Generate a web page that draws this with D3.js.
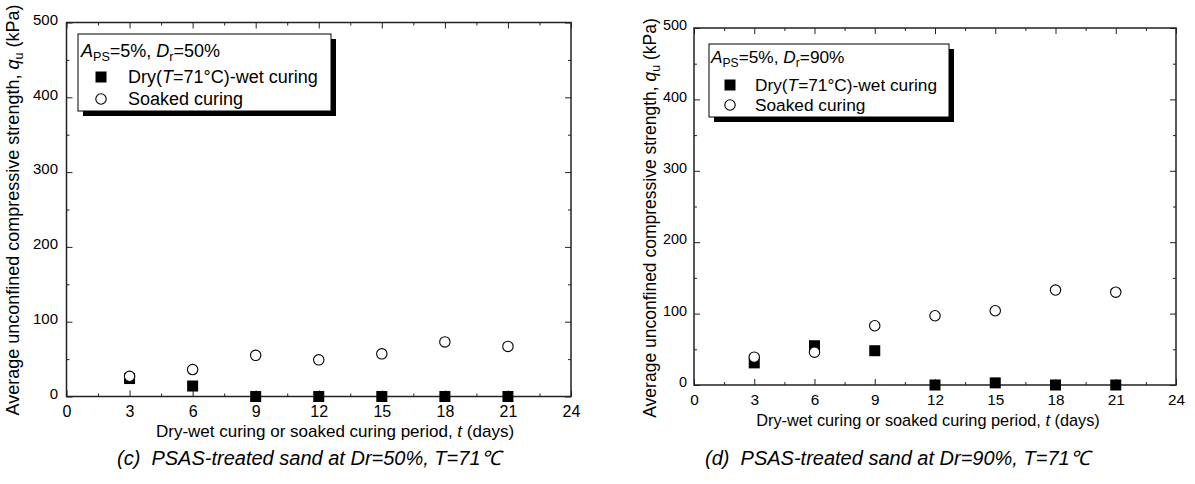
<!DOCTYPE html>
<html>
<head>
<meta charset="utf-8">
<script src="https://cdn.jsdelivr.net/npm/d3@7"></script>
<style>
  body { margin: 0; background: #fff; }
  svg { font-family: "Liberation Sans", Arial, sans-serif; }
  .axis path, .axis line { stroke: #222; }
  .axis text { fill: #000; }
</style>
</head>
<body>
<svg id="chart" width="1195" height="484"></svg>
<script>
// curing period (days)
var days = [3, 6, 9, 12, 15, 18, 21];
// (c) Dr=50%
var dryWetC  = [24, 14, 0, 0, 0, 0, 0];
var soakedC  = [27, 36, 55, 49, 57, 73, 67];
// (d) Dr=90%
var dryWetD  = [31, 55, 48, 0, 3, 0, 0];
var soakedD  = [39, 46, 83, 97, 104, 133, 130];

var xTicks = [0, 3, 6, 9, 12, 15, 18, 21, 24];
var xMinor = [1.5, 4.5, 7.5, 10.5, 13.5, 16.5, 19.5, 22.5];
var yTicks = [0, 100, 200, 300, 400, 500];
var yMinor = [50, 150, 250, 350, 450];

var svg = d3.select("#chart");

function noDomain(s) { s.select(".domain").remove(); }

function drawPanel(p) {
  var x = d3.scaleLinear().domain([0, 24]).range([p.left, p.right]),
      y = d3.scaleLinear().domain([0, 500]).range([p.bottom, p.top]);
  var f = p.fs;

  var g = svg.append("g");

  // frame
  g.append("rect")
    .attr("x", p.left).attr("y", p.top)
    .attr("width", p.right - p.left).attr("height", p.bottom - p.top)
    .attr("fill", "none").attr("stroke", "#222").attr("stroke-width", 1.5);

  // ticks, all pointing inward
  g.append("g").attr("class", "axis")
    .attr("transform", "translate(0," + p.bottom + ")")
    .call(d3.axisBottom(x).tickValues(xTicks).tickSizeInner(-6).tickSizeOuter(0).tickPadding(9))
    .call(noDomain)
    .selectAll("text").attr("font-size", 16 * f);
  g.append("g").attr("class", "axis")
    .attr("transform", "translate(0," + p.bottom + ")")
    .call(d3.axisBottom(x).tickValues(xMinor).tickSize(-3).tickFormat(""))
    .call(noDomain);
  g.append("g").attr("class", "axis")
    .attr("transform", "translate(0," + p.top + ")")
    .call(d3.axisTop(x).tickValues(xTicks).tickSize(-6).tickFormat(""))
    .call(noDomain);
  g.append("g").attr("class", "axis")
    .attr("transform", "translate(0," + p.top + ")")
    .call(d3.axisTop(x).tickValues(xMinor).tickSize(-3).tickFormat(""))
    .call(noDomain);

  g.append("g").attr("class", "axis")
    .attr("transform", "translate(" + p.left + ",0)")
    .call(d3.axisLeft(y).tickValues(yTicks).tickSizeInner(-6).tickSizeOuter(0).tickPadding(p.yPad))
    .call(noDomain)
    .selectAll("text").attr("font-size", 15 * f).attr("dy", "0.12em");
  g.append("g").attr("class", "axis")
    .attr("transform", "translate(" + p.left + ",0)")
    .call(d3.axisLeft(y).tickValues(yMinor).tickSize(-3).tickFormat(""))
    .call(noDomain);
  g.append("g").attr("class", "axis")
    .attr("transform", "translate(" + p.right + ",0)")
    .call(d3.axisRight(y).tickValues(yTicks).tickSize(-6).tickFormat(""))
    .call(noDomain);
  g.append("g").attr("class", "axis")
    .attr("transform", "translate(" + p.right + ",0)")
    .call(d3.axisRight(y).tickValues(yMinor).tickSize(-3).tickFormat(""))
    .call(noDomain);

  // x title
  var xt = g.append("text")
    .attr("x", p.xTitleX).attr("y", p.xTitleY)
    .attr("text-anchor", "middle").attr("font-size", 17 * f);
  xt.append("tspan").text("Dry-wet curing or soaked curing period, ");
  xt.append("tspan").attr("font-style", "italic").text("t");
  xt.append("tspan").text(" (days)");

  // y title
  var yt = g.append("text")
    .attr("transform", "translate(" + p.yTitleX + "," + p.yTitleY + ") rotate(-90)")
    .attr("text-anchor", "middle").attr("font-size", p.yTitleFs);
  yt.append("tspan").text("Average unconfined compressive strength, ");
  yt.append("tspan").attr("font-style", "italic").text("q");
  yt.append("tspan").attr("font-size", p.yTitleFs * 0.7).attr("dy", 4).text("u");
  yt.append("tspan").attr("dy", -4).text(" (kPa)");

  // markers
  g.selectAll(".sq").data(days).enter().append("rect")
    .attr("class", "sq")
    .attr("x", function (d) { return x(d) - 5.5; })
    .attr("y", function (d, i) { return y(p.dryWet[i]) - 5.5; })
    .attr("width", 11).attr("height", 11)
    .attr("fill", "#000");
  g.selectAll(".ci").data(days).enter().append("circle")
    .attr("class", "ci")
    .attr("cx", function (d) { return x(d); })
    .attr("cy", function (d, i) { return y(p.soaked[i]); })
    .attr("r", 5.2)
    .attr("fill", "#fff").attr("stroke", "#000").attr("stroke-width", 1.1);

  // legend
  var L = p.legend;
  g.append("rect")
    .attr("x", L.x + 5).attr("y", L.y + 5).attr("width", L.w).attr("height", L.h)
    .attr("fill", "#000");
  g.append("rect")
    .attr("x", L.x).attr("y", L.y).attr("width", L.w).attr("height", L.h)
    .attr("fill", "#fff").attr("stroke", "#000").attr("stroke-width", 1);

  var lf = 18 * f;
  var h = g.append("text").attr("x", L.hx).attr("y", L.hy).attr("font-size", lf);
  h.append("tspan").attr("font-style", "italic").text("A");
  h.append("tspan").attr("font-size", lf * 0.7).attr("dy", 4).text("PS");
  h.append("tspan").attr("dy", -4).text("=5%, ");
  h.append("tspan").attr("font-style", "italic").text("D");
  h.append("tspan").attr("font-size", lf * 0.7).attr("dy", 4).text("r");
  h.append("tspan").attr("dy", -4).text("=" + p.dr + "%");

  g.append("rect")
    .attr("x", L.mx - 5.5).attr("y", L.r1 - 5.5).attr("width", 11).attr("height", 11)
    .attr("fill", "#000");
  var t1 = g.append("text").attr("x", L.tx).attr("y", L.r1 + 6).attr("font-size", lf);
  t1.append("tspan").text("Dry(");
  t1.append("tspan").attr("font-style", "italic").text("T");
  t1.append("tspan").text("=71\u00b0C)-wet curing");

  g.append("circle")
    .attr("cx", L.mx).attr("cy", L.r2).attr("r", 5.2)
    .attr("fill", "#fff").attr("stroke", "#000").attr("stroke-width", 1.1);
  g.append("text").attr("x", L.tx).attr("y", L.r2 + 6).attr("font-size", lf)
    .text("Soaked curing");

  // caption
  svg.append("text")
    .attr("x", p.capX).attr("y", 465)
    .attr("font-size", 20).attr("font-style", "italic")
    .style("white-space", "pre")
    .text(p.caption);
}

drawPanel({
  left: 66.5, right: 571, top: 22.5, bottom: 396.5, fs: 1, yPad: 8.5,
  dryWet: dryWetC, soaked: soakedC, dr: 50,
  xTitleX: 335, xTitleY: 437,
  yTitleX: 19, yTitleY: 210, yTitleFs: 18,
  legend: { x: 78, y: 34, w: 253, h: 77, hx: 81, hy: 57, mx: 101, tx: 128, r1: 77, r2: 99 },
  capX: 117, caption: "(c)  PSAS-treated sand at Dr=50%, T=71\u2103"
});

drawPanel({
  left: 694, right: 1176, top: 28, bottom: 385, fs: 0.96, yPad: 7,
  dryWet: dryWetD, soaked: soakedD, dr: 90,
  xTitleX: 928, xTitleY: 426,
  yTitleX: 656, yTitleY: 218, yTitleFs: 17.5,
  legend: { x: 709, y: 44, w: 240, h: 73, hx: 711, hy: 63, mx: 730, tx: 755, r1: 85, r2: 105 },
  capX: 705, caption: "(d)  PSAS-treated sand at Dr=90%, T=71\u2103"
});
</script>
</body>
</html>
